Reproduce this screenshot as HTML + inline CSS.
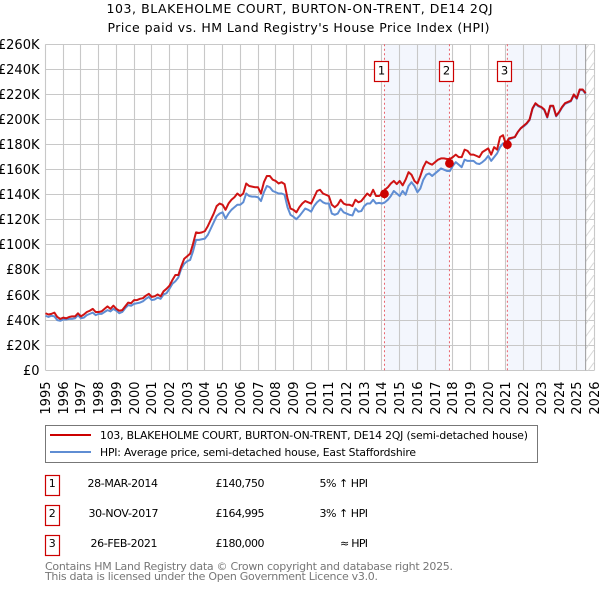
<!DOCTYPE html>
<html lang="en">
<head>
<meta charset="utf-8">
<title>103, BLAKEHOLME COURT price chart</title>
<style>
html,body{margin:0;padding:0;background:#fff;width:600px;height:590px;overflow:hidden}
svg{display:block}
text{font-family:"DejaVu Sans","Liberation Sans",sans-serif;fill:#000}
</style>
</head>
<body>
<svg id="chart" width="600" height="590" viewBox="0 0 600 590" xmlns="http://www.w3.org/2000/svg">
<defs>
<pattern id="hatch" width="9" height="12.5" patternUnits="userSpaceOnUse">
<line x1="0" y1="12.5" x2="9" y2="0" stroke="#d8d8d8" stroke-width="1"/>
</pattern>
</defs>
<text x="299.5" y="13" font-size="12.5" text-anchor="middle" textLength="386" lengthAdjust="spacing">103, BLAKEHOLME COURT, BURTON-ON-TRENT, DE14 2QJ</text>
<text x="298.5" y="32" font-size="12.5" text-anchor="middle" textLength="382" lengthAdjust="spacing">Price paid vs. HM Land Registry's House Price Index (HPI)</text>
<g id="shading"></g>
<g id="grid"></g>
<g id="sale-lines"></g>
<g id="series"></g>
<g id="markers"></g>
<g id="y-labels"></g>
<g id="x-labels"></g>

<g>
<rect x="45.5" y="425.5" width="492" height="37" fill="#fff" stroke="#777" stroke-width="1"/>
<line x1="50" y1="435" x2="91" y2="435" stroke="#cc0000" stroke-width="2"/>
<text x="100" y="439" font-size="10.8" textLength="428" lengthAdjust="spacing">103, BLAKEHOLME COURT, BURTON-ON-TRENT, DE14 2QJ (semi-detached house)</text>
<line x1="50" y1="452" x2="91" y2="452" stroke="#5f8dd3" stroke-width="2"/>
<text x="100" y="456" font-size="10.8" textLength="316" lengthAdjust="spacing">HPI: Average price, semi-detached house, East Staffordshire</text>
</g>

<g>
<rect x="45.5" y="475.5" width="14" height="20" fill="#fff" stroke="#c00" stroke-width="1.2"/>
<text x="52.3" y="487" text-anchor="middle" font-size="11">1</text>
<text x="87.5" y="487" font-size="11" textLength="70.5" lengthAdjust="spacing">28-MAR-2014</text>
<text x="215.5" y="487" font-size="11" textLength="49" lengthAdjust="spacing">£140,750</text>
<text x="319.5" y="487" font-size="11" textLength="48.5" lengthAdjust="spacing">5% ↑ HPI</text>

<rect x="45.5" y="505.5" width="14" height="20" fill="#fff" stroke="#c00" stroke-width="1.2"/>
<text x="52.3" y="517" text-anchor="middle" font-size="11">2</text>
<text x="88.5" y="517" font-size="11" textLength="70" lengthAdjust="spacing">30-NOV-2017</text>
<text x="215.5" y="517" font-size="11" textLength="49" lengthAdjust="spacing">£164,995</text>
<text x="319.5" y="517" font-size="11" textLength="48.5" lengthAdjust="spacing">3% ↑ HPI</text>

<rect x="45.5" y="535.5" width="14" height="20" fill="#fff" stroke="#c00" stroke-width="1.2"/>
<text x="52.3" y="547" text-anchor="middle" font-size="11">3</text>
<text x="90.5" y="547" font-size="11" textLength="67" lengthAdjust="spacing">26-FEB-2021</text>
<text x="215.5" y="547" font-size="11" textLength="49" lengthAdjust="spacing">£180,000</text>
<text x="340" y="547" font-size="11" textLength="28" lengthAdjust="spacing">≈ HPI</text>
</g>

<text x="45" y="570" font-size="11" style="fill:#777" textLength="408" lengthAdjust="spacing">Contains HM Land Registry data © Crown copyright and database right 2025.</text>
<text x="45" y="580" font-size="11" style="fill:#777" textLength="333" lengthAdjust="spacing">This data is licensed under the Open Government Licence v3.0.</text>
</svg>

<script>
const yearTicks = [1995,1996,1997,1998,1999,2000,2001,2002,2003,2004,2005,2006,2007,2008,2009,2010,2011,2012,2013,2014,2015,2016,2017,2018,2019,2020,2021,2022,2023,2024,2025,2026];
const priceTicks = [0,20,40,60,80,100,120,140,160,180,200,220,240,260];
const firstYear = 1995;
const samplesPerYear = 6;
const pricePaidIndex = [
45.5,44.5,45,46,42.5,41,
42,41.5,42.5,43,43,45.5,
43,44.5,46.5,47.5,49,46.5,
46.5,47,49,51,49,51.5,
49,47.5,48,51,54,53.5,
56,56,57,57.5,59.5,61,
58.5,59,60.5,59,63,65,
67.5,72,76,76,83,89,
91,93,101,110,109.5,110,
111,115,120,125,131,133,
132,128,133,136,138,141,
139,141,149,147,146.5,146,
146,141,150,155,155,152,
151,149,150,148.5,137,129,
128,126,130,133,135,134,
133,138,143,144,141,140,
139,132,130,132,136,133,
132,132,131,136,134,135,
138,141,139,144,139,139,
140.5,144,146,149,151,148.5,
151,147.5,152,158,156,151,
149,155,162,166.5,165,164,
166,168,169,169,168.5,168.5,
170,172,170,170,176,175,
172,172,171,170,174,175.5,
177,172,178,176,186,187.5,
180,185,185.5,186,190,193,
195,197,200,209,213,211,
210,208,202,211,211,203,
206,210,213,214,215,220,
217,224,224,221
];
const hpiIndex = [
43.5,42.5,43.5,43,40,39.5,
40.5,40.5,41,41,41.5,44,
41.5,42,44,45,46,44,
45,45,46.5,48,47,49,
47.5,45.5,46.5,49.5,52,51.5,
53,53.5,54,55,57,58.5,
56,56.5,58,57,60.5,61.5,
65,69,71,74,81,85,
87,88,95,104,104,104.5,
105,108,113,118,123,125,
126,121,125,128,130,132,
132,134,141,139,138.5,138.5,
138,135,142,147,146,143,
142,141,141,140,130,124,
122.5,120.5,123,126,129,128,
126.5,131,134,136,134,133,
133,125,124,125,129,126,
125,124,123.5,129,126.5,127,
131,133,133,136,133,133.5,
133,134,136,139,143,141,
139,143,140,147,150,147,
142,145,152,156,157,155,
157,159,161,160,159,159,
163,166,164,162,168,167,
167,167,165,164.5,166,168,
171,167,170,173,178,181,
180,184,185,186,190,193,
194.5,196.5,199.5,208.5,212.5,210.5,
209.5,207.5,201.5,210.5,210.5,202.5,
205.5,209.5,212.5,213.5,214.5,219.5,
216.5,223.5,223.5,220.5
];
const saleDates = [2014.14,2017.81,2021.08];
const salePrices = [140.75,164.995,180];
const saleLabels = ["1","2","3"];
const dataEndYear = 2025.5;

const NS = "http://www.w3.org/2000/svg";
const plot = {left:45.5,right:594.5,top:44.3,bottom:370.3};
const maxPrice = 260;
const xOf = function(year){return plot.left+(year-firstYear)*(plot.right-plot.left)/(2026-firstYear);};
const yOf = function(price){return plot.bottom-price*(plot.bottom-plot.top)/maxPrice;};
const snap = function(v){return Math.floor(v)+0.5;};
function make(tag,parent,attrs){
  const el=document.createElementNS(NS,tag);
  for(const k in attrs){el.setAttribute(k,attrs[k]);}
  document.getElementById(parent).appendChild(el);
  return el;
}

let band;
band=make('rect','shading',{x:xOf(saleDates[0]),y:plot.top,width:xOf(saleDates[1])-xOf(saleDates[0]),height:plot.bottom-plot.top,fill:'#f3f6fd'});


band=make('rect','shading',{x:xOf(saleDates[2]),y:plot.top,width:xOf(dataEndYear)-xOf(saleDates[2]),height:plot.bottom-plot.top,fill:'#f3f6fd'});



priceTicks.forEach(function(p){
  const y=snap(yOf(p));
  const g=make('line','grid',{x1:plot.left,x2:plot.right,y1:y,y2:y,stroke:'#c8c8c8','stroke-width':1.1});
  
  
  const t=make('text','y-labels',{x:39.5,y:y+4.7,'font-size':13,'text-anchor':'end'});
  
  
  t.textContent=p===0?'£0':'£'+p+'K';
});
yearTicks.forEach(function(yr){
  const x=snap(xOf(yr));
  const g=make('line','grid',{x1:x,x2:x,y1:plot.top,y2:plot.bottom,stroke:'#c8c8c8','stroke-width':1.1});
  
  
  const t=make('text','x-labels',{x:0,y:0,'font-size':13,'text-anchor':'end',transform:'translate('+(x+4.7)+',381.5) rotate(-90)'});
  
  
  t.textContent=yr;
});

const hatch=make('rect','grid',{x:xOf(dataEndYear),y:plot.top,width:plot.right-xOf(dataEndYear),height:plot.bottom-plot.top,fill:'url(#hatch)'});


const endLine=make('line','grid',{x1:xOf(dataEndYear),x2:xOf(dataEndYear),y1:plot.top,y2:plot.bottom,stroke:'#999','stroke-width':1});



function seriesPoints(values){
  return values.map(function(v,i){return xOf(firstYear+i/samplesPerYear).toFixed(2)+','+yOf(v).toFixed(2);}).join(' ');
}
const hpiLine=make('polyline','series',{points:seriesPoints(hpiIndex),fill:'none',stroke:'#5f8dd3','stroke-width':2,'stroke-linejoin':'round'});


const priceLine=make('polyline','series',{points:seriesPoints(pricePaidIndex),fill:'none',stroke:'#cc0000','stroke-width':2,'stroke-linejoin':'round','stroke-opacity':0.92});



saleDates.forEach(function(d,i){
  const x=xOf(d);
  const l=make('line','sale-lines',{x1:x,x2:x,y1:plot.top,y2:plot.bottom,stroke:'#e8606a','stroke-width':1,'stroke-dasharray':'2 2.5'});
  
  
  const m=make('circle','markers',{cx:x,cy:yOf(salePrices[i]),r:4.4,fill:'#cc0000'});
  
  
  const b=make('rect','markers',{x:snap(x-10),y:61.5,width:14,height:20,fill:'#fff',stroke:'#c00','stroke-width':1.2});
  
  
  const t=make('text','markers',{x:snap(x-10)+7,y:74.5,'font-size':11.5,'text-anchor':'middle'});
  
  
  t.textContent=saleLabels[i];
});
</script>
</body>
</html>
